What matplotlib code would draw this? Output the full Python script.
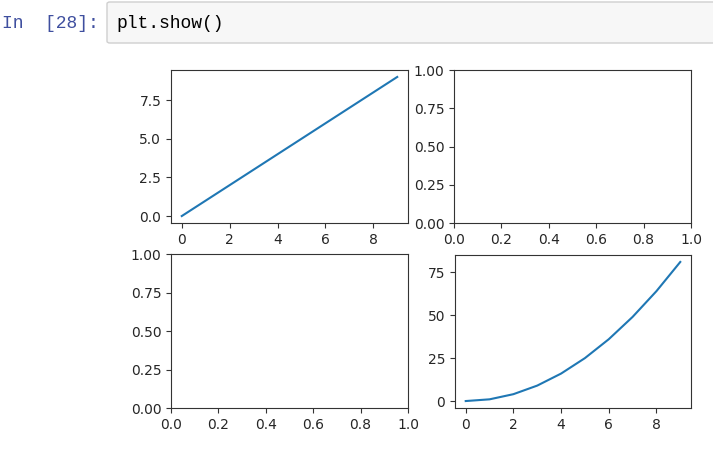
import matplotlib.pyplot as plt
from matplotlib.patches import FancyBboxPatch

# data
x_vals = [0, 1, 2, 3, 4, 5, 6, 7, 8, 9]
y_line = [0, 1, 2, 3, 4, 5, 6, 7, 8, 9]
y_square = [0, 1, 4, 9, 16, 25, 36, 49, 64, 81]

xticks_int = [0, 2, 4, 6, 8]
yticks_line = [0.0, 2.5, 5.0, 7.5]
yticks_square = [0, 25, 50, 75]
ticks_unit = [0.0, 0.25, 0.5, 0.75, 1.0]
xticks_unit = [0.0, 0.2, 0.4, 0.6, 0.8, 1.0]

prompt_text = 'In  [28]:'
code_text = 'plt.show()'

plt.rcParams['font.size'] = 10
plt.rcParams['font.family'] = ['DejaVu Sans']

W, H = 713, 461
fig = plt.figure(figsize=(W / 100, H / 100), dpi=100)


def box(left, top, right, bottom):
    return [left / W, 1 - bottom / H, (right - left) / W, (bottom - top) / H]


# notebook cell header
cell = FancyBboxPatch((107 / W, 1 - 43 / H), 620 / W, 41 / H,
                      boxstyle='round,pad=0,rounding_size=0.004',
                      transform=fig.transFigure, facecolor='#f7f7f7',
                      edgecolor='#cfcfcf', linewidth=1)
fig.patches.append(cell)
fig.text(2 / W, 1 - 23 / H, prompt_text, family='Liberation Mono', fontsize=13,
         color='#3f4f9f', va='center', ha='left')
fig.text(116 / W, 1 - 23 / H, code_text, family='Liberation Mono', fontsize=13,
         color='black', va='center', ha='left')

ax1 = fig.add_axes(box(171, 70, 408, 223))
ax2 = fig.add_axes(box(454, 70, 691, 223))
ax3 = fig.add_axes(box(171, 254, 408, 408))
ax4 = fig.add_axes(box(455, 255, 691, 408))

ax1.plot(x_vals, y_line)
ax4.plot(x_vals, y_square)

ax1.set_xticks(xticks_int)
ax1.set_yticks(yticks_line)
ax4.set_xticks(xticks_int)
ax4.set_yticks(yticks_square)
for ax in (ax2, ax3):
    ax.set_xticks(xticks_unit)
    ax.set_yticks(ticks_unit)

for ax in (ax1, ax2, ax3, ax4):
    for sp in ax.spines.values():
        sp.set_color('#333333')
    ax.tick_params(colors='#333333', labelcolor='#262626')

fig.savefig('out.png', dpi=100)
